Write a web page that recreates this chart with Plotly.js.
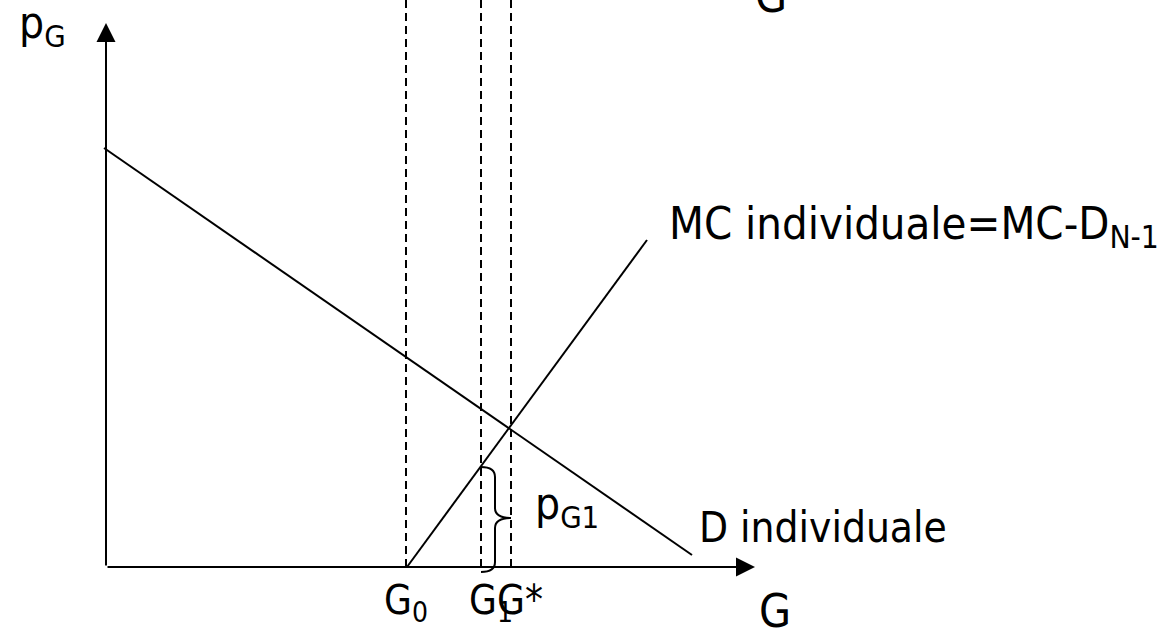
<!DOCTYPE html>
<html>
<head>
<meta charset="utf-8">
<script src="https://cdn.plot.ly/plotly-3.0.1.min.js"></script>
<style>
  html, body { margin: 0; padding: 0; background: #ffffff; }
  #chart { width: 1176px; height: 631px; }
</style>
</head>
<body>
<div id="chart"></div>
<script>
// Individual demand and individual marginal cost for a public good G
const demandG = [-0.04, 11.72];
const demandP = [8.38, 0.24];
const mcG = [6.02, 10.82];
const mcP = [0.0, 6.54];

// Reference quantities on the G axis and their labels
const guideG = [6.0, 7.5, 8.1];
const guideLabels = ['G<sub>0</sub>', 'G<sub>1</sub>', 'G*'];

// Price paid at G1 (height of the brace)
const pG1 = 2.0;

// Axis extents
const axisEndG = 12.98;
const axisEndP = 10.88;
const guideTop = 11.6;

const FONT = 'DejaVu Sans Condensed, DejaVu Sans, sans-serif';
const BIG = 44;
const SMALL = 40;
const W = 1176, H = 631;

// plot area fills the page: origin at (106, 567), 50 px per unit
const X = px => (px - 106) / 50;
const Y = py => (567 - py) / 50;

const traces = [];

// dashed guides
guideG.forEach(g => {
  traces.push({
    x: [g, g], y: [0, guideTop], mode: 'lines',
    line: { color: '#000', width: 2, dash: '8px,5px' },
    hoverinfo: 'skip', showlegend: false
  });
});

traces.push({
  x: demandG, y: demandP, mode: 'lines',
  line: { color: '#000', width: 2 }, hoverinfo: 'skip', showlegend: false
});
traces.push({
  x: mcG, y: mcP, mode: 'lines',
  line: { color: '#000', width: 2 }, hoverinfo: 'skip', showlegend: false
});

// curly brace spanning 0..pG1 next to G1
const bx0 = guideG[1];
const bxb = guideG[1] + 0.28;
const bxt = guideG[2];
const ym = pG1 / 2 - 0.02;
const r = 0.2;
const yb = -0.1;
const bracePath =
  `M ${bx0},${pG1} Q ${bxb},${pG1} ${bxb},${pG1 - r} ` +
  `L ${bxb},${ym + r} Q ${bxb},${ym} ${bxt},${ym} ` +
  `Q ${bxb},${ym} ${bxb},${ym - r} ` +
  `L ${bxb},${yb + r} Q ${bxb},${yb} ${bx0},${yb}`;

const shapes = [
  { type: 'path', path: bracePath, xref: 'x', yref: 'y',
    line: { color: '#000', width: 2 }, fillcolor: 'rgba(0,0,0,0)' }
];

// text placed by left edge and baseline (pixels), in paper coordinates
function label(text, leftPx, basePx, size) {
  const topPx = basePx - 0.928 * size - 1;
  return {
    text: text, x: leftPx / W, y: 1 - topPx / H, xref: 'paper', yref: 'paper',
    xanchor: 'left', yanchor: 'top', showarrow: false,
    font: { family: FONT, size: size, color: '#000' }
  };
}

const arrowStyle = { text: '', showarrow: true, arrowhead: 2, arrowsize: 1.9,
  arrowwidth: 2, arrowcolor: '#000', standoff: 0,
  axref: 'x', ayref: 'y', xref: 'x', yref: 'y', ax: 0, ay: 0 };

const annotations = [
  // axes with arrowheads
  Object.assign({ x: axisEndG, y: 0 }, arrowStyle),
  Object.assign({ x: 0, y: axisEndP }, arrowStyle),

  label('p<sub>G</sub>', 17, 37, BIG),
  label('G', 753, 11, BIG + 2),
  label('MC individuale=MC-D<sub>N-1</sub>', 667, 238, 45),
  label('p<sub>G1</sub>', 533, 518, BIG),
  label('D individuale', 697, 541, 42),
  label('G', 757, 626, BIG + 2),
  label(guideLabels[0], 382, 613, SMALL),
  label(guideLabels[1], 467, 613, SMALL),
  label(guideLabels[2], 495, 613, SMALL)
];

const layout = {
  width: W, height: H,
  margin: { l: 0, r: 0, t: 0, b: 0 },
  paper_bgcolor: '#ffffff', plot_bgcolor: '#ffffff',
  xaxis: { range: [X(0), X(W)], visible: false, fixedrange: true },
  yaxis: { range: [Y(H), Y(0)], visible: false, fixedrange: true },
  shapes: shapes,
  annotations: annotations,
  showlegend: false
};

Plotly.newPlot('chart', traces, layout, { staticPlot: true, displayModeBar: false });
</script>
</body>
</html>
